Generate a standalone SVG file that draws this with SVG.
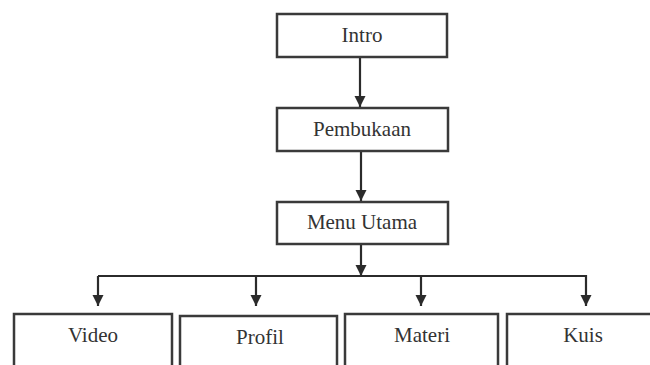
<svg xmlns="http://www.w3.org/2000/svg" width="650" height="365" viewBox="0 0 650 365">
  <defs>
    <marker id="arrow" markerUnits="userSpaceOnUse" markerWidth="12" markerHeight="12" refX="11" refY="5.5" orient="auto">
      <path d="M0,0 L11,5.5 L0,11 z" fill="#2b2b2b"/>
    </marker>
    <style>
      .box { fill: #ffffff; stroke: #3a3a3a; stroke-width: 2.5; }
      .lbl { font-family: "Liberation Serif", "Times New Roman", serif; font-size: 21px; fill: #333333; text-anchor: middle; }
      .con { fill: none; stroke: #2b2b2b; stroke-width: 2.2; }
    </style>
  </defs>
  <rect width="650" height="365" fill="#ffffff"/>

  <g id="connectors">
    <line class="con" x1="360" y1="57" x2="360" y2="107" marker-end="url(#arrow)"/>
    <line class="con" x1="361" y1="151" x2="361" y2="201" marker-end="url(#arrow)"/>
    <line class="con" x1="361" y1="244" x2="361" y2="276" marker-end="url(#arrow)"/>
    <polyline class="con" points="98,276 586,276 586,306" marker-end="url(#arrow)"/>
    <line class="con" x1="98" y1="276" x2="98" y2="306" marker-end="url(#arrow)"/>
    <line class="con" x1="256" y1="276" x2="256" y2="306" marker-end="url(#arrow)"/>
    <line class="con" x1="421" y1="276" x2="421" y2="306" marker-end="url(#arrow)"/>
  </g>

  <g id="intro">
    <rect class="box" x="277" y="14" width="170" height="43"/>
    <text class="lbl" x="362" y="42">Intro</text>
  </g>
  <g id="pembukaan">
    <rect class="box" x="277" y="108" width="171" height="43"/>
    <text class="lbl" x="362" y="136">Pembukaan</text>
  </g>
  <g id="menu-utama">
    <rect class="box" x="277" y="202" width="171" height="42"/>
    <text class="lbl" x="362" y="229">Menu Utama</text>
  </g>
  <g id="video">
    <rect class="box" x="14" y="314" width="158" height="60"/>
    <text class="lbl" x="93" y="342">Video</text>
  </g>
  <g id="profil">
    <rect class="box" x="180" y="316" width="157" height="60"/>
    <text class="lbl" x="260" y="344">Profil</text>
  </g>
  <g id="materi">
    <rect class="box" x="345" y="314" width="153" height="60"/>
    <text class="lbl" x="422" y="342">Materi</text>
  </g>
  <g id="kuis">
    <rect class="box" x="507" y="314" width="160" height="60"/>
    <text class="lbl" x="583" y="342">Kuis</text>
  </g>
</svg>
